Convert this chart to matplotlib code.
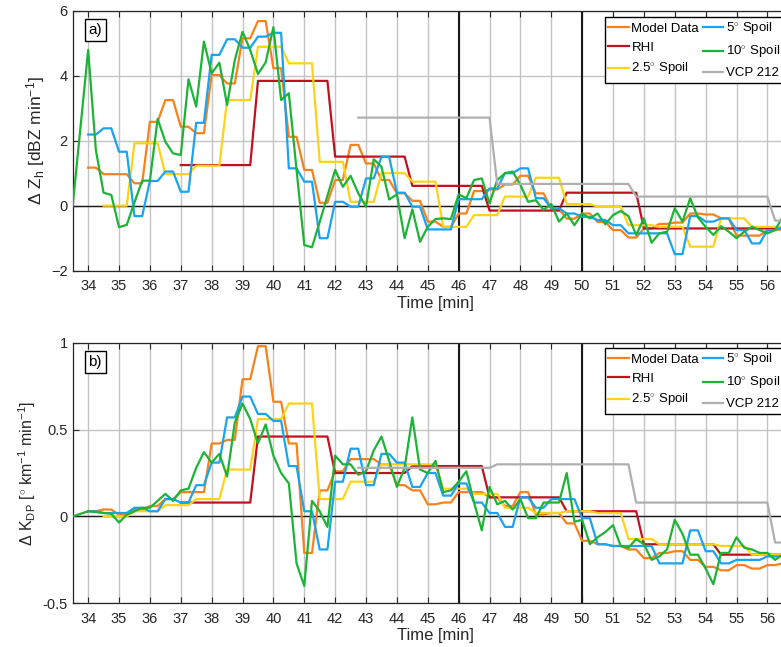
import numpy as np
import matplotlib
matplotlib.use('Agg')
from matplotlib import pyplot as plt

plt.rcParams['font.family'] = ['Liberation Sans', 'DejaVu Sans']
plt.rcParams['mathtext.fontset'] = 'custom'
plt.rcParams['mathtext.rm'] = 'Liberation Sans'
plt.rcParams['mathtext.it'] = 'Liberation Sans:italic'
plt.rcParams['mathtext.bf'] = 'Liberation Sans:bold'

# ---- data ----
# model data / 5 deg spoil are updated every 30 s starting at 34.0 min
zh_model = [1.17, 0.97, 0.97, 0.69, 2.58, 3.25, 2.43, 2.23, 4.02, 3.76,
            5.15, 5.68, 4.23, 2.12, 1.10, 0.09, 0.79, 1.87, 1.30, 0.79,
            0.38, 0.15, -0.49, -0.65, -0.24, 0.45, 0.50, 0.65, 0.92, 0.38,
            -0.10, -0.40, -0.24, -0.50, -0.75, -0.98, -0.70, -0.56, -0.52, -0.24,
            -0.27, -0.39, -0.92, -0.92, -0.75, -0.72]
zh_spoil5 = [2.19, 2.38, 1.66, -0.32, 0.76, 1.05, 0.43, 2.55, 4.64, 5.12,
             4.86, 5.20, 5.32, 1.15, 0.74, -1.00, 0.12, -0.03, 0.84, 1.50,
             0.40, -0.03, -0.73, -0.73, 0.20, 0.20, 0.53, 1.00, 1.15, 0.23,
             -0.08, -0.24, -0.34, -0.44, -0.60, -0.85, -0.85, -0.85, -1.49, -0.32,
             -0.49, -0.39, -0.75, -1.16, -0.75, -0.65]
# 2.5 deg spoil every 60 s from 34.5 min
zh_spoil25 = [0.0, 1.92, 0.97, 1.23, 3.25, 4.89, 4.38, 1.35, 0.12, 1.00, 0.74,
              -0.65, -0.29, 0.28, 0.86, 0.05, -0.03, -0.60, -0.65, -1.26, -0.39, -0.65]
# RHI every 2.5 min from 37 min, VCP 212 every 4.5 min from 42.75 min
zh_rhi = [1.25, 3.84, 1.51, 0.61, -0.15, 0.40, -0.70, -0.70]
zh_vcp = [2.71, 0.67, 0.28, -0.46]
# 10 deg spoil every 15 s (first point at 33.5 min)
zh_spoil10 = [0.0,
              4.79, 1.71, 0.40, 0.33, -0.66, -0.59, 0.10, 0.77,
              0.77, 2.67, 1.97, 1.61, 1.56, 3.89, 3.05, 5.05,
              4.07, 4.40, 3.10, 4.48, 5.35, 4.79, 4.05, 4.41,
              5.49, 3.25, 3.46, 1.10, -1.21, -1.28, -0.50, 0.30,
              1.10, 0.58, 0.92, 0.38, -0.03, 1.43, 1.20, 0.19,
              0.35, -1.00, -0.11, -1.11, -0.65, -0.41, -0.39, -0.41,
              0.35, 0.23, 0.79, 0.84, 0.07, 0.79, 1.00, 1.05,
              0.64, 0.12, 0.17, -0.13, 0.05, -0.49, -0.24, -0.60,
              -0.24, -0.39, -0.24, -0.57, -0.29, -0.16, -0.32, -0.90,
              -0.39, -1.14, -0.85, -0.80, -0.08, -0.49, 0.23, -0.36,
              -0.65, -0.90, -0.63, -0.80, -1.00, -0.80, -0.65, -0.75,
              -0.85, -0.75, -0.34]

kdp_model = [0.03, 0.04, 0.01, 0.04, 0.06, 0.10, 0.14, 0.14, 0.42, 0.44,
             0.79, 0.98, 0.66, 0.42, -0.21, 0.15, 0.26, 0.33, 0.33, 0.30,
             0.18, 0.15, 0.07, 0.08, 0.14, 0.14, 0.11, 0.06, 0.14, 0.01,
             0.02, -0.04, -0.14, -0.16, -0.17, -0.19, -0.24, -0.21, -0.20, -0.25,
             -0.29, -0.31, -0.28, -0.30, -0.28, -0.27]
kdp_spoil5 = [0.03, 0.02, 0.02, 0.05, 0.03, 0.10, 0.08, 0.18, 0.31, 0.57,
              0.69, 0.59, 0.55, 0.29, 0.03, -0.19, 0.20, 0.39, 0.18, 0.36,
              0.31, 0.17, 0.25, 0.12, 0.19, 0.08, 0.02, -0.06, 0.11, 0.05,
              0.10, 0.10, -0.01, -0.16, -0.17, -0.17, -0.17, -0.27, -0.27, -0.08,
              -0.20, -0.27, -0.25, -0.25, -0.23, -0.23]
kdp_spoil25 = [0.0, 0.03, 0.065, 0.10, 0.27, 0.56, 0.65, 0.10, 0.20, 0.30, 0.30,
               0.16, 0.13, 0.05, 0.02, 0.03, 0.02, -0.13, -0.16, -0.16, -0.17, -0.22]
kdp_rhi = [0.08, 0.46, 0.25, 0.29, 0.11, 0.03, -0.16, -0.22]
kdp_vcp = [0.28, 0.30, 0.08, -0.15]
kdp_spoil10 = [0.0,
               0.03, 0.025, 0.02, 0.015, -0.035, 0.01, 0.03, 0.05,
               0.05, 0.09, 0.13, 0.09, 0.15, 0.16, 0.28, 0.37,
               0.31, 0.36, 0.23, 0.54, 0.65, 0.56, 0.42, 0.53,
               0.35, 0.25, 0.19, -0.27, -0.40, 0.09, 0.03, -0.06,
               0.35, 0.30, 0.30, 0.24, 0.26, 0.38, 0.46, 0.32,
               0.17, 0.28, 0.57, 0.27, 0.25, 0.32, 0.14, 0.15,
               0.20, 0.26, 0.08, -0.08, 0.17, 0.07, 0.09, 0.04,
               0.10, -0.01, -0.01, 0.08, 0.08, 0.08, 0.25, -0.03,
               -0.02, -0.16, -0.12, -0.09, -0.05, -0.17, -0.18, -0.13,
               -0.16, -0.25, -0.23, -0.19, -0.02, -0.10, -0.22, -0.22,
               -0.30, -0.39, -0.21, -0.21, -0.12, -0.18, -0.19, -0.21,
               -0.21, -0.25, -0.22]

t_model = 34.0 + 0.5 * np.arange(len(zh_model))
t_spoil25 = 34.5 + 1.0 * np.arange(len(zh_spoil25))
t_rhi = 37.0 + 2.5 * np.arange(len(zh_rhi))
t_vcp = 42.75 + 4.5 * np.arange(len(zh_vcp))
t_spoil10 = np.r_[33.5, np.arange(34.0, 56.6, 0.25)]

labels = ['Model Data', 'RHI', r'2.5$^{\circ}$ Spoil',
          r'5$^{\circ}$ Spoil', r'10$^{\circ}$ Spoil', 'VCP 212']
colors = ['#F7821B', '#C0111F', '#FFD21A', '#1AA3F0', '#1DB337', '#AFAFAF']


def held(t, v, t_end=57.0, ramp=0.25):
    # each value is held until 15 s before the next update
    xs, ys = [], []
    for i in range(len(t)):
        nxt = t[i + 1] - ramp if i + 1 < len(t) else t_end
        xs += [t[i], nxt]
        ys += [v[i], v[i]]
    return xs, ys


def panel(ax, model, rhi, s25, s5, s10, vcp, ylim, yticks, ylabel, ylsize, tag, legy):
    series = [held(t_model, model), held(t_rhi, rhi), held(t_spoil25, s25),
              held(t_model, s5), (t_spoil10, s10), held(t_vcp, vcp)]
    for (x, y), c, lab in zip(series, colors, labels):
        ax.plot(x, y, color=c, lw=1.6, label=lab, zorder=3)

    ax.set_xlim(33.5, 57)
    ax.set_ylim(*ylim)
    ax.set_xticks(np.arange(34, 57))
    ax.set_yticks(yticks)
    ax.grid(True, color='#C4C4C4', lw=1.0, zorder=0)
    ax.set_axisbelow(True)
    ax.axhline(0, color='#1a1a1a', lw=1.0, zorder=2)
    for xv in (46, 50):
        ax.axvline(xv, color='#1a1a1a', lw=1.5, zorder=2)

    ax.tick_params(direction='in', length=4, top=True, labelsize=10.5,
                   colors='#262626', width=0.8)
    ax.tick_params(axis='x', pad=6)
    for s in ax.spines.values():
        s.set_color('#262626')
        s.set_linewidth(0.9)
    ax.set_xlabel('Time [min]', fontsize=12, labelpad=2, color='#262626')
    ax.set_ylabel(ylabel, fontsize=ylsize, labelpad=3, color='#262626')

    ax.text(0.031, 0.925, tag, transform=ax.transAxes, fontsize=11,
            ha='center', va='center',
            bbox=dict(boxstyle='square,pad=0.25', fc='white', ec='black', lw=1))

    leg = ax.legend(ncol=2, loc='upper left', bbox_to_anchor=(605 / 781, legy),
                    bbox_transform=fig.transFigure, fontsize=9.5, frameon=True,
                    fancybox=False, edgecolor='black', framealpha=1,
                    handlelength=1.55, handletextpad=0.2, columnspacing=0.3,
                    labelspacing=0.5, borderpad=0.25, borderaxespad=0)
    leg.get_frame().set_linewidth(1.0)


fig = plt.figure(figsize=(7.81, 6.47), dpi=100)
ax1 = fig.add_axes([0.0931, 0.5816, 0.929, 0.4019])
ax2 = fig.add_axes([0.0931, 0.0675, 0.929, 0.4028])

panel(ax1, zh_model, zh_rhi, zh_spoil25, zh_spoil5, zh_spoil10, zh_vcp,
      (-2, 6), [-2, 0, 2, 4, 6], r'$\Delta$ Z$_{\rm h}$ [dBZ min$^{-1}$]', 12.5,
      'a)', 1 - 17 / 647)
panel(ax2, kdp_model, kdp_rhi, kdp_spoil25, kdp_spoil5, kdp_spoil10, kdp_vcp,
      (-0.5, 1), [-0.5, 0, 0.5, 1],
      r'$\Delta$ K$_{\rm DP}$ [$^{\circ}$ km$^{-1}$ min$^{-1}$]', 11.5,
      'b)', 1 - 348 / 647)
ax2.set_yticklabels(['-0.5', '0', '0.5', '1'])

fig.savefig('out.png', dpi=100)
